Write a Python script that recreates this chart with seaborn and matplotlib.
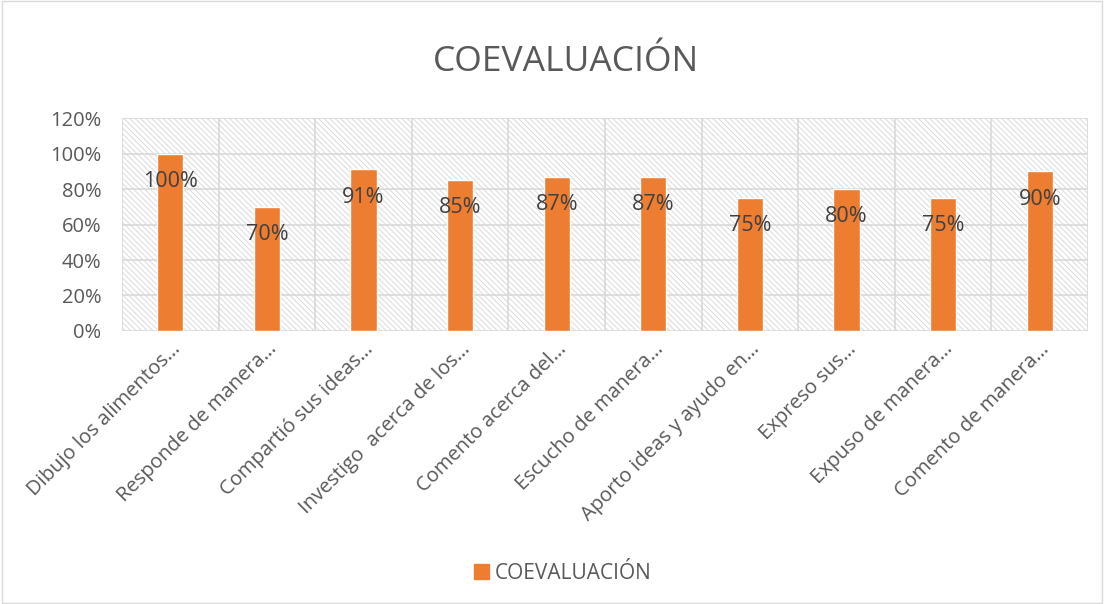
import matplotlib
matplotlib.use("Agg")
import matplotlib.pyplot as plt
import matplotlib.patches as mpatches
import seaborn as sns
import pandas as pd

categories = ["Dibujo los alimentos…", "Responde de manera…", "Compartió sus ideas…",
              "Investigo  acerca de los…", "Comento acerca del…", "Escucho de manera…",
              "Aporto ideas y ayudo en…", "Expreso sus…", "Expuso de manera…",
              "Comento de manera…"]
values = [1.00, 0.70, 0.91, 0.85, 0.87, 0.87, 0.75, 0.80, 0.75, 0.90]
yticks = [0, 0.2, 0.4, 0.6, 0.8, 1.0, 1.2]
series_name = "COEVALUACIÓN"

sns.set_theme(style="white")
plt.rcParams['font.family'] = ['Open Sans', 'DejaVu Sans']
plt.rcParams['hatch.linewidth'] = 0.7

TEXT = '#595959'
ORANGE = '#ED7D31'
GRID = '#d9d9d9'

fig = plt.figure(figsize=(11.04, 6.04), dpi=100)
ax = fig.add_axes([0.1105, 0.452, 0.875, 0.3526])

df = pd.DataFrame({"cat": categories, "val": values})
ax.add_patch(mpatches.Rectangle((0, 0), 1, 1, transform=ax.transAxes,
                                facecolor='white', edgecolor='#dadada', linewidth=0,
                                hatch='\\\\\\\\\\\\', zorder=0))
sns.barplot(data=df, x="cat", y="val", color=ORANGE, width=0.27,
            saturation=1, ax=ax, zorder=3)

ax.set_ylim(0, 1.2)
ax.set_xlim(-0.5, len(categories) - 0.5)
ax.set_yticks(yticks)
ax.set_yticklabels([f"{int(round(t*100))}%" for t in yticks], color=TEXT, fontsize=14.5)
ax.yaxis.grid(True, color=GRID, linewidth=1.2, zorder=1)
for b in range(len(categories) + 1):
    ax.axvline(b - 0.5, color=GRID, linewidth=1.2, zorder=1)
ax.set_axisbelow(True)
for s in ax.spines.values():
    s.set_visible(False)
ax.set_xlabel("")
ax.set_ylabel("")
ax.tick_params(axis='y', length=0, pad=15)
ax.tick_params(axis='x', length=0, pad=6)
ax.set_xticks(range(len(categories)))
ax.set_xticklabels(categories, rotation=45, ha='right', rotation_mode='anchor',
                   color=TEXT, fontsize=14.5)

for i, v in enumerate(values):
    ax.annotate(f"{int(round(v*100))}%", (i, v), xytext=(0, -20),
                textcoords='offset points', ha='center', va='center',
                fontsize=15.5, color='#404040', zorder=5)

fig.text(0.5125, 0.898, "COEVALUACIÓN", ha='center', va='center', fontsize=25.5, color=TEXT)

handle = mpatches.Patch(color=ORANGE, label=series_name)
fig.legend(handles=[handle], loc='center', bbox_to_anchor=(0.51, 0.051), frameon=False,
           fontsize=15, labelcolor=TEXT, handlelength=0.7, handleheight=0.7,
           handletextpad=0.3)

fig.patches.append(mpatches.Rectangle((0.002, 0.002), 0.996, 0.996, transform=fig.transFigure,
                                      fill=False, edgecolor='#d9d9d9', linewidth=1))
fig.savefig("out.png", dpi=100)
